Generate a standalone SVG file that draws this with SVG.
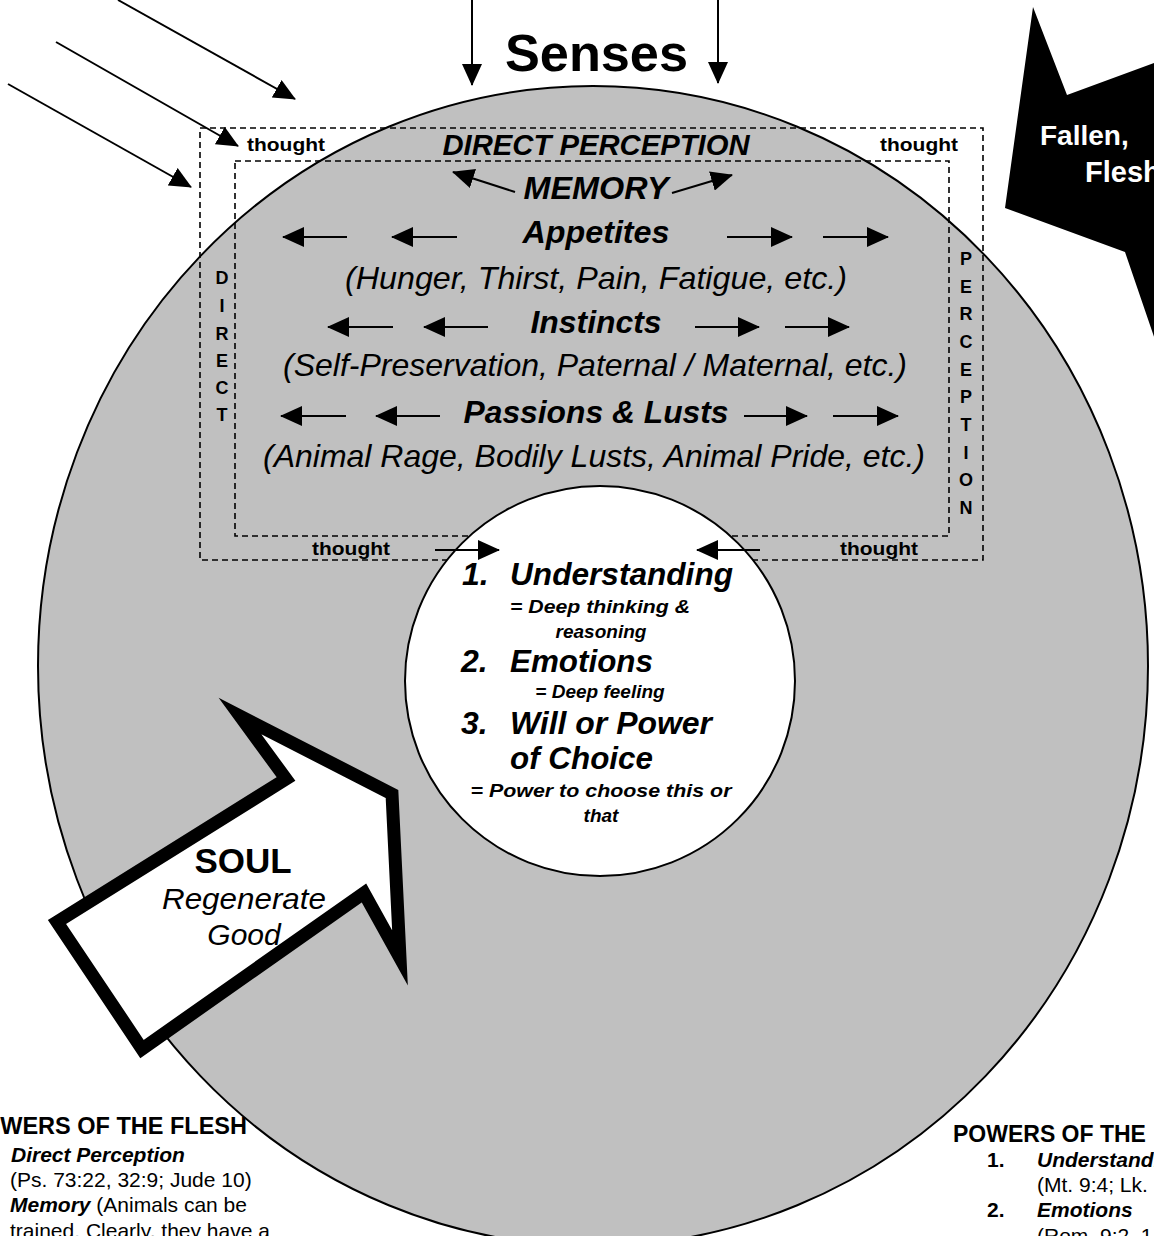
<svg xmlns="http://www.w3.org/2000/svg" width="1154" height="1236" viewBox="0 0 1154 1236">
<style>
text{font-family:"Liberation Sans",Arial,sans-serif;fill:#000}
.b{font-weight:bold}
.i{font-style:italic}
.bi{font-weight:bold;font-style:italic}
.ln{stroke:#000;stroke-width:2;fill:none}
.dash{stroke:#000;stroke-width:1.6;fill:none;stroke-dasharray:6 4}
</style>
<defs>
<marker id="ah" markerUnits="userSpaceOnUse" viewBox="0 0 22 20" markerWidth="22" markerHeight="20" refX="21" refY="10" orient="auto">
<path d="M0,0 L22,10 L0,20 z" fill="#000"/>
</marker>
</defs>
<rect width="1154" height="1236" fill="#fff"/>
<g id="body">
<ellipse cx="593" cy="666" rx="555" ry="580" fill="#c0c0c0" stroke="#000" stroke-width="2"/>
</g>
<g id="frames">
<rect class="dash" x="200" y="128" width="783" height="432"/>
<rect class="dash" x="235" y="161" width="714" height="375"/>
</g>
<g id="fallen-flesh">
<polygon points="1170,57 1067,95 1033,7 1005,208 1125,252 1162,360 1170,360" fill="#000"/>
<text class="b" x="1040" y="145" font-size="28" style="fill:#fff">Fallen,</text>
<text class="b" x="1085" y="182" font-size="29" style="fill:#fff">Flesh</text>
</g>
<g id="mind">
<circle cx="600" cy="681" r="195" fill="#fff" stroke="#000" stroke-width="2"/>
<text class="bi" x="462" y="585" font-size="32">1.</text>
<text class="bi" x="510" y="585" font-size="32" textLength="223" lengthAdjust="spacingAndGlyphs">Understanding</text>
<text class="bi" x="600" y="613" font-size="19" text-anchor="middle" textLength="180" lengthAdjust="spacingAndGlyphs">= Deep thinking &amp;</text>
<text class="bi" x="601" y="638" font-size="19" text-anchor="middle">reasoning</text>
<text class="bi" x="461" y="672" font-size="32">2.</text>
<text class="bi" x="510" y="672" font-size="32" textLength="143" lengthAdjust="spacingAndGlyphs">Emotions</text>
<text class="bi" x="600" y="698" font-size="19" text-anchor="middle">= Deep feeling</text>
<text class="bi" x="461" y="734" font-size="32">3.</text>
<text class="bi" x="510" y="734" font-size="32" textLength="202" lengthAdjust="spacingAndGlyphs">Will or Power</text>
<text class="bi" x="510" y="769" font-size="32" textLength="143" lengthAdjust="spacingAndGlyphs">of Choice</text>
<text class="bi" x="601" y="797" font-size="19" text-anchor="middle" textLength="261" lengthAdjust="spacingAndGlyphs">= Power to choose this or</text>
<text class="bi" x="601" y="822" font-size="19" text-anchor="middle">that</text>
</g>
<g id="labels">
<text class="b" x="505" y="71" font-size="52" textLength="183" lengthAdjust="spacingAndGlyphs">Senses</text>
<text class="b" x="247" y="151" font-size="19" textLength="78" lengthAdjust="spacingAndGlyphs">thought</text>
<text class="b" x="880" y="151" font-size="19" textLength="78" lengthAdjust="spacingAndGlyphs">thought</text>
<text class="b" x="312" y="555" font-size="19" textLength="78" lengthAdjust="spacingAndGlyphs">thought</text>
<text class="b" x="840" y="555" font-size="19" textLength="78" lengthAdjust="spacingAndGlyphs">thought</text>
<text class="bi" x="596" y="155" font-size="29" text-anchor="middle" textLength="307" lengthAdjust="spacingAndGlyphs">DIRECT PERCEPTION</text>
<text class="bi" x="596" y="199" font-size="31" text-anchor="middle" textLength="145" lengthAdjust="spacingAndGlyphs">MEMORY</text>
<text class="bi" x="596" y="243" font-size="32" text-anchor="middle" textLength="147" lengthAdjust="spacingAndGlyphs">Appetites</text>
<text class="i" x="596" y="289" font-size="32" text-anchor="middle" textLength="502" lengthAdjust="spacingAndGlyphs">(Hunger, Thirst, Pain, Fatigue, etc.)</text>
<text class="bi" x="596" y="333" font-size="32" text-anchor="middle" textLength="131" lengthAdjust="spacingAndGlyphs">Instincts</text>
<text class="i" x="595" y="376" font-size="32" text-anchor="middle" textLength="624" lengthAdjust="spacingAndGlyphs">(Self-Preservation, Paternal / Maternal, etc.)</text>
<text class="bi" x="596" y="423" font-size="32" text-anchor="middle" textLength="265" lengthAdjust="spacingAndGlyphs">Passions &amp; Lusts</text>
<text class="i" x="594" y="467" font-size="32" text-anchor="middle" textLength="662" lengthAdjust="spacingAndGlyphs">(Animal Rage, Bodily Lusts, Animal Pride, etc.)</text>
<g class="b" font-size="18" text-anchor="middle">
<text x="222" y="284">D</text><text x="222" y="312">I</text><text x="222" y="340">R</text><text x="222" y="367">E</text><text x="222" y="394">C</text><text x="222" y="421">T</text>
<text x="966" y="265">P</text><text x="966" y="293">E</text><text x="966" y="320">R</text><text x="966" y="348">C</text><text x="966" y="376">E</text><text x="966" y="403">P</text><text x="966" y="431">T</text><text x="966" y="459">I</text><text x="966" y="486">O</text><text x="966" y="514">N</text>
</g>
</g>
<g id="soul">
<polygon points="57,922 286,779 240,716 392,794 400,958 364,893 142,1049" fill="#fff" stroke="#000" stroke-width="13" stroke-miterlimit="10"/>
<text class="b" x="243" y="873" font-size="35" text-anchor="middle">SOUL</text>
<text class="i" x="244" y="909" font-size="30" text-anchor="middle" textLength="164" lengthAdjust="spacingAndGlyphs">Regenerate</text>
<text class="i" x="244" y="945" font-size="30" text-anchor="middle">Good</text>
</g>
<g id="connectors">
<line class="ln" x1="118" y1="0" x2="295" y2="99" marker-end="url(#ah)"/>
<line class="ln" x1="56" y1="42" x2="238" y2="146" marker-end="url(#ah)"/>
<line class="ln" x1="8" y1="84" x2="191" y2="187" marker-end="url(#ah)"/>
<line class="ln" x1="472" y1="0" x2="472" y2="85" marker-end="url(#ah)"/>
<line class="ln" x1="718" y1="0" x2="718" y2="83" marker-end="url(#ah)"/>
<line class="ln" x1="515" y1="192" x2="453" y2="172" marker-end="url(#ah)"/>
<line class="ln" x1="672" y1="193" x2="732" y2="175" marker-end="url(#ah)"/>
<line class="ln" x1="347" y1="237" x2="283" y2="237" marker-end="url(#ah)"/>
<line class="ln" x1="457" y1="237" x2="392" y2="237" marker-end="url(#ah)"/>
<line class="ln" x1="727" y1="237" x2="792" y2="237" marker-end="url(#ah)"/>
<line class="ln" x1="823" y1="237" x2="888" y2="237" marker-end="url(#ah)"/>
<line class="ln" x1="393" y1="327" x2="328" y2="327" marker-end="url(#ah)"/>
<line class="ln" x1="488" y1="327" x2="424" y2="327" marker-end="url(#ah)"/>
<line class="ln" x1="695" y1="327" x2="759" y2="327" marker-end="url(#ah)"/>
<line class="ln" x1="785" y1="327" x2="849" y2="327" marker-end="url(#ah)"/>
<line class="ln" x1="346" y1="416" x2="281" y2="416" marker-end="url(#ah)"/>
<line class="ln" x1="440" y1="416" x2="376" y2="416" marker-end="url(#ah)"/>
<line class="ln" x1="744" y1="416" x2="807" y2="416" marker-end="url(#ah)"/>
<line class="ln" x1="833" y1="416" x2="898" y2="416" marker-end="url(#ah)"/>
<line class="ln" x1="435" y1="550" x2="499" y2="550" marker-end="url(#ah)"/>
<line class="ln" x1="760" y1="550" x2="697" y2="550" marker-end="url(#ah)"/>
</g>
<g id="flesh-list">
<text class="b" x="247" y="1134" font-size="23.5" text-anchor="end">POWERS OF THE FLESH</text>
<text class="bi" x="11" y="1162" font-size="21">Direct Perception</text>
<text x="10" y="1187" font-size="21">(Ps. 73:22, 32:9; Jude 10)</text>
<text x="10" y="1212" font-size="21"><tspan class="bi">Memory</tspan> (Animals can be</text>
<text x="10" y="1238" font-size="21">trained.  Clearly, they have a</text>
</g>
<g id="spirit-list">
<text class="b" x="953" y="1142" font-size="23">POWERS OF THE</text>
<text class="b" x="987" y="1167" font-size="21">1.</text>
<text class="bi" x="1037" y="1167" font-size="21">Understanding</text>
<text x="1037" y="1192" font-size="21">(Mt. 9:4; Lk.</text>
<text class="b" x="987" y="1217" font-size="21">2.</text>
<text class="bi" x="1037" y="1217" font-size="21">Emotions</text>
<text x="1037" y="1243" font-size="21">(Rom. 9:2, 1</text>
</g>
</svg>
